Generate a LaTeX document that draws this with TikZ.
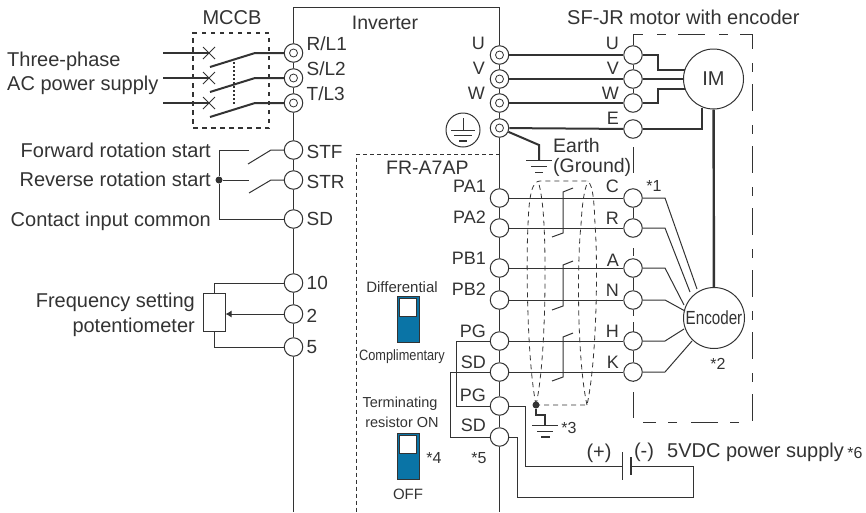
\documentclass[tikz,border=0pt]{standalone}
\usepackage{fontspec}
\setmainfont{Liberation Sans}
\usetikzlibrary{arrows.meta}
\definecolor{ink}{HTML}{333333}
\definecolor{swblue}{HTML}{0A74A6}
\tikzset{
  every node/.style={text=ink,inner sep=0pt,font=\fontsize{20}{22}\selectfont},
  wire/.style={draw=ink,line width=1pt},
  heavy/.style={draw=ink,line width=2pt},
  term/.style={circle,draw=ink,fill=white,line width=1pt,minimum size=18.5pt},
  pterm/.style={term,path picture={\draw[ink,line width=.8pt] (path picture bounding box.center) circle (4pt);}},
  lab/.style={anchor=east},
  rlab/.style={anchor=west},
  tlab/.style={font=\fontsize{19}{21}\selectfont},
  plab/.style={anchor=east,font=\fontsize{18}{20}\selectfont},
  small/.style={font=\fontsize{15}{17}\selectfont},
  star/.style={font=\fontsize{16}{18}\selectfont},
  mdash/.style={draw=ink,line width=1pt,dash pattern=on 9pt off 12pt on 27pt off 14pt,dash phase=38pt},
  shield/.style={draw=ink,line width=.8pt,dash pattern=on 5pt off 4pt},
  sw/.style={draw=ink,fill=swblue,line width=1pt,minimum width=22pt,minimum height=46pt},
  swk/.style={draw=ink,fill=white,line width=.8pt,minimum width=17.5pt,minimum height=18pt},
  blob/.style={circle,fill=ink,minimum size=7pt}
}
\begin{document}
\begin{tikzpicture}[x=1pt,y=-1pt]
\useasboundingbox (0,0) rectangle (866,512);
% terminals: inverter left
\foreach \n/\y in {r1/53,s2/78,t3/103} \node[pterm] (\n) at (293.5,\y) {};
\foreach \n/\y in {stf/150,str/180,sd/219,ten/283,two/314,five/347} \node[term] (\n) at (293.5,\y) {};
% inverter right
\foreach \n/\y in {iu/55,iv/79,iw/103,ie/128} \node[pterm] (\n) at (499.5,\y) {};
\foreach \n/\y in {pa1/198,pa2/228,pb1/268,pb2/300,pg1/341,sd1/372,pg2/406,sd2/437} \node[term] (\n) at (499.5,\y) {};
% motor terminals
\foreach \n/\y in {mu/55,mv/79,mw/103,me/129,mc/198,mr/228,ma/268,mn/300,mh/341,mk/372} \node[term] (\n) at (633,\y) {};
\node[circle,draw=ink,line width=1pt,minimum size=60pt] (im) at (713.5,79) {IM};
\node[circle,draw=ink,line width=1pt,fill=white,minimum size=61pt] (enc) at (714,318) {\fontsize{19}{21}\selectfont\addfontfeature{FakeStretch=.8}Encoder};
\node[rlab] (motor) at (567,17) {SF-JR motor with encoder};
% inverter frame
\coordinate (itl) at (293.5,7); \coordinate (itr) at (499.5,7);
\coordinate (ibl) at (293.5,512); \coordinate (ibr) at (499.5,512);
\draw[wire] (r1) -- (itl) -- (itr) -- (iu);
\foreach \a/\b in {r1/s2,s2/t3,t3/stf,stf/str,str/sd,sd/ten,ten/two,two/five,five/ibl,
  iu/iv,iv/iw,iw/ie,ie/pa1,pa1/pa2,pa2/pb1,pb1/pb2,pb2/pg1,pg1/sd1,sd1/pg2,pg2/sd2,sd2/ibr}
  \draw[wire] (\a) -- (\b);
% FR-A7AP boundary
\coordinate (fa) at (356,154); \coordinate (fb) at (499.5,154); \coordinate (fc) at (356,512);
\draw[draw=ink,line width=.8pt,dash pattern=on 4pt off 3pt] (fb) -- (fa) -- (fc);
\node[rlab,font=\fontsize{19.5}{21}\selectfont] (fra) at (386,168) {FR-A7AP};
% MCCB
\node (mccbl) at (232,18) {MCCB};
\node[draw=ink,line width=2pt,dash pattern=on 4.5pt off 4.5pt,minimum width=76pt,minimum height=95pt] (mccb) at (231,80.5) {};
\foreach \y/\n/\t in {53/a/r1,78/b/s2,103/c/t3}{
  \coordinate (in\n) at (163,\y);
  \coordinate (x\n) at (209,\y);
  \coordinate (k\n) at (255,\y);
  \coordinate (o\n) at (210,\y+14);
  \draw[heavy] (in\n) -- (x\n);
  \draw[draw=ink,line width=1pt] (203,\y-6) -- (215,\y+6) (203,\y+6) -- (215,\y-6);
  \draw[heavy] (o\n) -- (k\n) -- (\t);
}
\draw[draw=ink,line width=1.4pt,dash pattern=on 2pt off 2pt] (234,62) -- (234,105);
\node[rlab] (tp) at (7,61) {Three-phase};
\node[rlab] (ac) at (7,85) {AC power supply};
% inverter labels
\node[font=\fontsize{19.5}{21}\selectfont] (inv) at (385,23) {Inverter};
\node[rlab,tlab] (lr) at (306.5,44) {R/L1};
\node[rlab,tlab] (ls) at (306.5,69) {S/L2};
\node[rlab,tlab] (lt) at (306.5,94) {T/L3};
\node[rlab,tlab] (lstf) at (306.5,152) {STF};
\node[rlab,tlab] (lstr) at (306.5,182) {STR};
\node[rlab,tlab] (lsd) at (306.5,219) {SD};
\node[rlab,tlab] (l10) at (306.5,283) {10};
\node[rlab,tlab] (l2) at (306.5,316) {2};
\node[rlab,tlab] (l5) at (306.5,347) {5};
\foreach \t/\y in {U/43,V/68,W/93}{\node[plab] (li\t) at (485,\y) {\t}; \node[plab] (lm\t) at (619,\y) {\t};}
\node[plab] (lmE) at (619,118) {E};
\foreach \t/\y/\n in {PA1/186/a,PA2/217/b,PB1/258/c,PB2/289/d,PG/331/e,SD/362/f,PG/395/g,SD/425/h} \node[plab] (lp\n) at (486,\y) {\t};
\foreach \t/\y in {C/186,R/218,A/260,N/290,H/331,K/362} \node[plab] (lc\t) at (619,\y) {\t};
% earth symbol
\node[circle,draw=ink,line width=1pt,minimum size=34pt] (eg) at (463,130) {};
\draw[draw=ink,line width=1pt] (463,118) -- (463,130) (451,130) -- (475,130) (454,135) -- (472,135);
\draw[draw=ink,line width=1.4pt] (459,141) -- (467,141);
% motor wires
\coordinate (u1) at (658,55); \coordinate (u2) at (658,70); \coordinate (w1) at (658,103); \coordinate (w2) at (658,89);
\coordinate (imu) at (685,70); \coordinate (imw) at (685,89); \coordinate (e1) at (702,129);
\draw[heavy] (iu) -- (mu); \draw[heavy] (iv) -- (mv); \draw[heavy] (iw) -- (mw); \draw[heavy] (ie) -- (me);
\draw[heavy] (mu) -- (u1) -- (u2) -- (imu);
\draw[heavy] (mv) -- (im);
\draw[heavy] (mw) -- (w1) -- (w2) -- (imw);
\draw[heavy] (me) -- (e1) -- (702,108);
\draw[draw=ink,line width=2.4pt] (im) -- (enc);
% ground
\coordinate (g1) at (539,145); \coordinate (g2) at (539,160);
\draw[heavy] (ie) -- (g1) -- (g2);
\draw[draw=ink,line width=1pt] (526,160) -- (552,160);
\draw[draw=ink,line width=1pt] (531,166) -- (547,166) ;
\draw[draw=ink,line width=1pt] (535,172) -- (543,172);
\node[rlab,font=\fontsize{19.5}{21}\selectfont] (earth) at (553,146) {Earth};
\node[rlab,font=\fontsize{19.5}{21}\selectfont] (gnd) at (553,167) {(Ground)};
% motor box
\coordinate (b2) at (633,34); \coordinate (b3) at (752,34); \coordinate (b4) at (752,422); \coordinate (b5) at (643,422);
\draw[mdash] (b2) -- (b3) -- (b4) -- (b5);
\draw[wire] (mu) -- (b2);
\draw[wire] (mu) -- (mv); \draw[wire] (mv) -- (mw);
\draw[wire] (633,147) -- (633,173);
\draw[wire] (mc) -- (mr);
\draw[wire] (ma) -- (mn);
\draw[wire] (mh) -- (mk);
\draw[wire] (633,248) -- (633,256);
\draw[wire] (mn) -- (633,316) (633,322) -- (633,332);
\draw[wire] (mk) -- (633,381);
\draw[wire] (633,392) -- (633,418);
% signal wires
\foreach \a/\b in {pa1/mc,pa2/mr,pb1/ma,pb2/mn,pg1/mh,sd1/mk} \draw[wire] (\a) -- (\b);
% encoder wires
\draw[wire] (mc) -- (665,198) -- (697,289);
\draw[wire] (mr) -- (665,228) -- (690,292);
\draw[wire] (ma) -- (665,268) -- (684,305);
\draw[wire] (mn) -- (665,300) -- (685,311);
\draw[wire] (mh) -- (665,341) -- (684,329);
\draw[wire] (mk) -- (665,372) -- (692,341);
% twists
\draw[wire] (573,188) -- (563,192) -- (563,233) -- (552,237);
\draw[wire] (573,261) -- (563,265) -- (563,306) -- (552,310);
\draw[wire] (573,333) -- (563,337) -- (563,377) -- (552,381);
% shield
\draw[shield] (536,405) .. controls (527,360) and (526,260) .. (528,225) .. controls (529,195) and (532,181) .. (540,181) -- (586,181) .. controls (592,181) and (594,195) .. (595,225) .. controls (598,260) and (597,360) .. (587,405) -- (536,405);
\draw[shield] (536,405) .. controls (546,360) and (546,260) .. (544,225) .. controls (543,205) and (541,190) .. (538,181);
\draw[shield] (587,405) .. controls (577,360) and (577,260) .. (581,225) .. controls (582,205) and (584,190) .. (588,181);
\node[blob] (dot3) at (536,405) {};
\coordinate (d1) at (536,415); \coordinate (d2) at (545,415); \coordinate (d3) at (545,425);
\draw[heavy] (dot3) -- (d1) -- (d2) -- (d3);
\draw[draw=ink,line width=1pt] (532,425) -- (558,425) (537,431) -- (553,431);
\draw[draw=ink,line width=1.2pt] (541,437) -- (550,437);
\node[star] (s3) at (569,428) {*3};
\node[star] (s1) at (654,186) {*1};
\node[star] (s2') at (718,364) {*2};
\node[star] (s4) at (434,458) {*4};
\node[star] (s5) at (479,458) {*5};
% power supply jumpers
\coordinate (j1) at (456,341); \coordinate (j2) at (456,406);
\coordinate (j3) at (450,372); \coordinate (j4) at (450,437);
\draw[wire] (pg1) -- (j1) -- (j2) -- (pg2);
\draw[wire] (sd1) -- (j3) -- (j4) -- (sd2);
\coordinate (p1) at (525,406); \coordinate (p2) at (525,466);
\coordinate (batp) at (622,466); \coordinate (batn) at (631,466);
\coordinate (p3) at (693,466); \coordinate (p4) at (693,497); \coordinate (p5) at (517,497); \coordinate (p6) at (517,437);
\draw[wire] (pg2) -- (p1) -- (p2) -- (batp);
\draw[wire] (batn) -- (p3) -- (p4) -- (p5) -- (p6) -- (sd2);
\draw[draw=ink,line width=1pt] (622,452) -- (622,480);
\draw[draw=ink,line width=2.4pt] (631,457) -- (631,475);
\node (plus) at (599,453) {(+)};
\node (minus) at (644,452) {(-)};
\node[rlab] (vdc) at (667,452) {5VDC power supply};
\node[star] (s6) at (855,453) {*6};
% left contacts
\node[lab] (lf) at (211,150) {Forward rotation start};
\node[lab] (lrv) at (211,179) {Reverse rotation start};
\node[lab] (lc) at (211,221) {Contact input common};
\node[blob] (jn) at (219,180) {};
\coordinate (c1) at (219,150); \coordinate (c2) at (249,150); \coordinate (c3) at (249,180); \coordinate (c4) at (219,219);
\draw[wire] (c2) -- (c1) -- (jn) -- (c4) -- (sd);
\draw[wire] (jn) -- (c3);
\draw[wire] (stf) -- (271,150) -- (248,164);
\draw[wire] (str) -- (271,180) -- (249,193);
% potentiometer
\node[draw=ink,line width=1pt,minimum width=22pt,minimum height=38pt] (pot) at (214,312) {};
\coordinate (t1) at (214,283); \coordinate (t5) at (214,347); \coordinate (wiper) at (225.5,314);
\draw[wire] (ten) -- (t1) -- (pot.north);
\draw[wire] (five) -- (t5) -- (pot.south);
\draw[wire,-{Latex[length=6pt,width=7pt]}] (two) -- (wiper);
\node[lab] (lfs) at (195,302) {Frequency setting};
\node[lab] (lpt) at (195,327) {potentiometer};
% switches
\node[small] (dif) at (402,287) {Differential};
\node[sw] (sw1) at (408,319) {};
\node[swk] (k1) at (408,307.5) {};
\node[small] (cmp) at (402,357) {\addfontfeature{FakeStretch=.85}Complimentary};
\node[small,font=\fontsize{14.5}{16}\selectfont] (term) at (400,404) {Terminating};
\node[small,font=\fontsize{14.5}{16}\selectfont] (res) at (402,422) {resistor ON};
\node[sw] (sw2) at (408,456) {};
\node[swk] (k2) at (408,444.5) {};
\node[small] (off) at (408,494) {OFF};
\end{tikzpicture}
\end{document}
